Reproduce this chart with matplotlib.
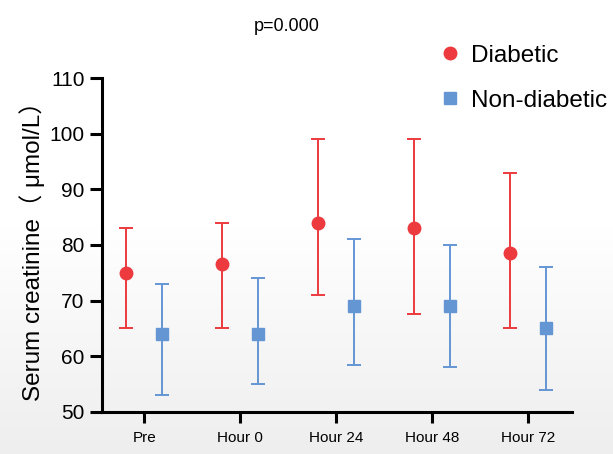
import numpy as np
import matplotlib
matplotlib.use('Agg')
import matplotlib.pyplot as plt
from matplotlib.colors import LinearSegmentedColormap

plt.rcParams['font.family'] = ['Liberation Sans', 'Noto Sans CJK SC', 'DejaVu Sans']

# data
categories = ['Pre', 'Hour 0', 'Hour 24', 'Hour 48', 'Hour 72']
diab_mean = [75, 76.5, 84, 83, 78.5]
diab_low = [65, 65, 71, 67.5, 65]
diab_high = [83, 84, 99, 99, 93]
nondiab_mean = [64, 64, 69, 69, 65]
nondiab_low = [53, 55, 58.5, 58, 54]
nondiab_high = [73, 74, 81, 80, 76]

red = '#EC3A3F'
blue = '#6496D4'

fig = plt.figure(figsize=(6.13, 4.54), dpi=100)

# faint white-to-grey background like the screenshot
bg = fig.add_axes([0, 0, 1, 1], zorder=-10)
grad = np.linspace(0, 1, 256).reshape(-1, 1)
cmap = LinearSegmentedColormap.from_list('bg', ['#ffffff', '#ffffff', '#eeeeee'])
bg.imshow(grad, cmap=cmap, aspect='auto', extent=[0, 1, 0, 1])
bg.axis('off')

ax = fig.add_axes([0.1664, 0.093, 0.7666, 0.735])
ax.patch.set_alpha(0)

x = np.arange(len(categories))
off = 0.19

dm = np.array(diab_mean)
ax.errorbar(x - off, dm, yerr=[dm - np.array(diab_low), np.array(diab_high) - dm],
            fmt='o', color=red, ms=9, elinewidth=1.4, capsize=5, capthick=1.4,
            label='Diabetic')
nm = np.array(nondiab_mean)
ax.errorbar(x + off, nm, yerr=[nm - np.array(nondiab_low), np.array(nondiab_high) - nm],
            fmt='s', color=blue, ms=8.5, elinewidth=1.4, capsize=5, capthick=1.4,
            label='Non-diabetic')

ax.set_xlim(-0.44, 4.46)
ax.set_ylim(50, 110)
ax.set_yticks([50, 60, 70, 80, 90, 100, 110])
ax.set_xticks(x)
ax.set_xticklabels(categories, fontsize=11)
ax.tick_params(axis='y', labelsize=15, width=2.2, length=9)
ax.tick_params(axis='x', width=2.2, length=8, pad=6)

for s in ['top', 'right']:
    ax.spines[s].set_visible(False)
for s in ['left', 'bottom']:
    ax.spines[s].set_linewidth(2.2)

ax.set_ylabel('Serum creatinine（ μmol/L）', fontsize=17.5, labelpad=3)

fig.text(0.468, 0.942, 'p=0.000', fontsize=13, ha='center', va='center')

handles, labels = ax.get_legend_handles_labels()
handles = [h[0] for h in handles]
fig.legend(handles, labels, loc='upper left', bbox_to_anchor=(0.677, 0.95),
           frameon=False, fontsize=17.5, handletextpad=0.3, labelspacing=0.95,
           handlelength=1.1)

fig.savefig('out.png', dpi=100)
